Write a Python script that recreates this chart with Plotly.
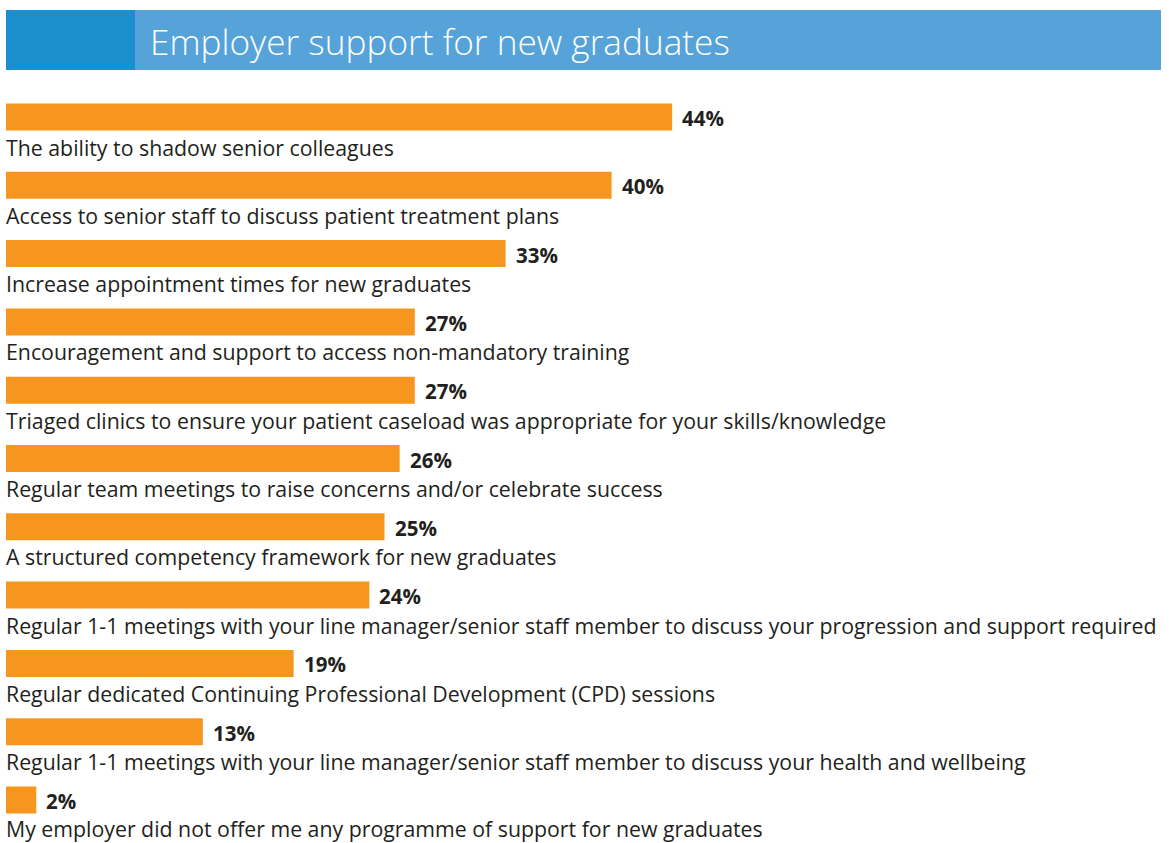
import plotly.graph_objects as go

W, H = 1169, 843

categories = [
    "The ability to shadow senior colleagues",
    "Access to senior staff to discuss patient treatment plans",
    "Increase appointment times for new graduates",
    "Encouragement and support to access non-mandatory training",
    "Triaged clinics to ensure your patient caseload was appropriate for your skills/knowledge",
    "Regular team meetings to raise concerns and/or celebrate success",
    "A structured competency framework for new graduates",
    "Regular 1-1 meetings with your line manager/senior staff member to discuss your progression and support required",
    "Regular dedicated Continuing Professional Development (CPD) sessions",
    "Regular 1-1 meetings with your line manager/senior staff member to discuss your health and wellbeing",
    "My employer did not offer me any programme of support for new graduates",
]
percentages = [44, 40, 33, 27, 27, 26, 25, 24, 19, 13, 2]
title_text = "Employer support for new graduates"

ORANGE = "#F7961E"
TEXT = "#231F20"

# layout in pixels
x_left = 6
px_per_pct = 15.14
row0 = 117.0       # centre of first bar
pitch = 68.3
bar_px = 27

positions = list(range(len(categories)))

fig = go.Figure()
fig.add_trace(go.Bar(
    x=percentages, y=positions, orientation="h",
    marker=dict(color=ORANGE, line=dict(width=0)),
    width=bar_px / pitch,
    hoverinfo="skip",
))

x_max = (W - x_left) / px_per_pct
y_top = -row0 / pitch
y_bot = (H - row0) / pitch

annotations = []
last = len(categories) - 1
for i, (cat, pct) in enumerate(zip(categories, percentages)):
    annotations.append(dict(
        x=0, y=i + 30 / pitch, xref="x", yref="y", text=cat,
        showarrow=False, xanchor="left", yanchor="middle", xshift=-1,
        yshift=2 if i == last else 0,  # keep descenders inside the page
        borderpad=0,
        font=dict(family="Open Sans", size=21.3, color=TEXT),
    ))
    annotations.append(dict(
        x=pct, y=i, xref="x", yref="y", text=f"<b>{pct}%</b>",
        showarrow=False, xanchor="left", yanchor="middle", xshift=9, yshift=-1,
        borderpad=0,
        font=dict(family="Open Sans", size=20.5, color=TEXT),
    ))

annotations.append(dict(
    x=148 / W, y=1 - 41 / H, xref="paper", yref="paper", text=title_text,
    showarrow=False, xanchor="left", yanchor="middle",
    font=dict(family="Open Sans", size=35.2, color="white", weight=300),
))

shapes = [
    dict(type="rect", xref="paper", yref="paper", x0=6 / W, x1=1161 / W,
         y0=1 - 70 / H, y1=1 - 10 / H, fillcolor="#56A3DA", line=dict(width=0), layer="below"),
    dict(type="rect", xref="paper", yref="paper", x0=6 / W, x1=135 / W,
         y0=1 - 70 / H, y1=1 - 10 / H, fillcolor="#1B90CF", line=dict(width=0), layer="below"),
]

fig.update_layout(
    width=W, height=H,
    margin=dict(l=0, r=0, t=0, b=0),
    paper_bgcolor="white", plot_bgcolor="white",
    showlegend=False,
    xaxis=dict(domain=[x_left / W, 1], range=[0, x_max], visible=False, fixedrange=True),
    yaxis=dict(domain=[0, 1], range=[y_bot, y_top], visible=False, fixedrange=True),
    annotations=annotations,
    shapes=shapes,
)

fig.write_html("out.html")
